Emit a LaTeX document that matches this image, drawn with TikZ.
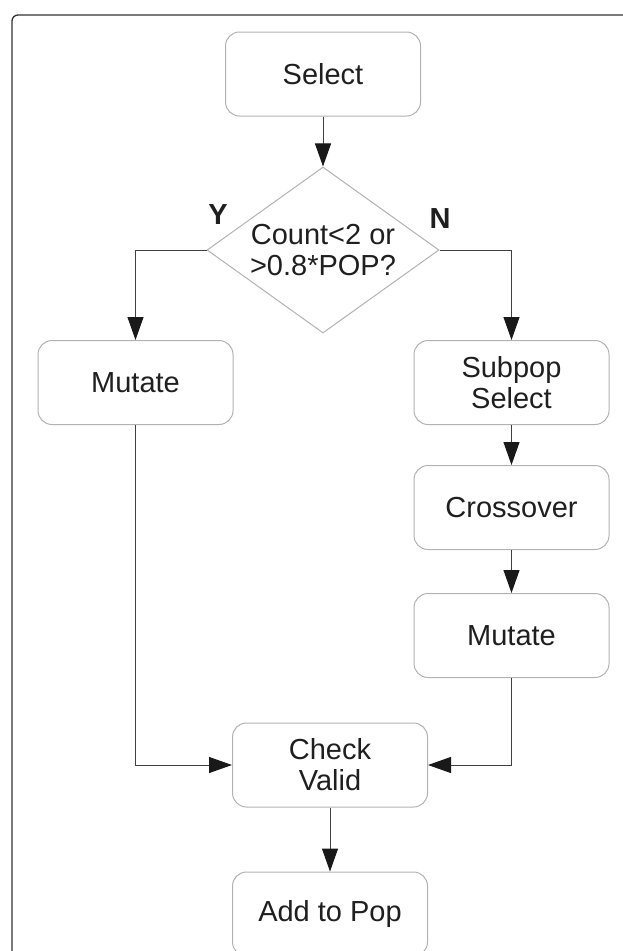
\documentclass[tikz,border=0pt]{standalone}
\usepackage{fontspec}
\setmainfont{Liberation Sans}
\usetikzlibrary{arrows.meta, shapes.geometric}

\begin{document}
\begin{tikzpicture}[x=1pt, y=-1pt]
    \tikzstyle{every node} = [font=\fontsize{29}{31}\selectfont, text=black!88]
    \tikzstyle{block} = [draw=black!30, line width=1pt, rounded corners=14pt, minimum width=195pt, minimum height=84pt, align=center]
    \tikzstyle{decision} = [draw=black!30, line width=1pt, shape=diamond, aspect=1.4, minimum width=232pt, minimum height=166pt, inner sep=0pt, align=center]
    \tikzstyle{flow} = [draw=black!75, line width=1pt, -{Triangle[length=23pt, width=16pt, color=black!90, fill=black!90]}]
    \clip (0,0) rectangle (623,951);
    \draw [black!80, line width=1.3pt, rounded corners=6pt] (12,15) rectangle (680,1000);
    \node (sel) [block] at (323,74) {Select};
    \node (dec) [decision] at (323,250) {Count<2 or\\>0.8*POP?};
    \node (yes) at (218,215) {\bfseries Y};
    \node (no) at (440,219) {\bfseries N};
    \node (mutL) [block] at (135.5,382.5) {Mutate};
    \node (sub) [block] at (511.5,382.5) {Subpop\\Select};
    \node (cross) [block] at (511.5,507.5) {Crossover};
    \node (mutR) [block] at (511.5,635.5) {Mutate};
    \node (chk) [block] at (330,765) {Check\\Valid};
    \node (add) [block] at (330,914) {Add to Pop};
      \draw [flow] (sel) -- (dec);
      \draw [flow] (dec.west) -| (mutL);
      \draw [flow] (dec.east) -| (sub);
      \draw [flow] (sub) -- (cross);
      \draw [flow] (cross) -- (mutR);
      \draw [flow] (mutL) |- (chk);
      \draw [flow] (mutR) |- (chk);
      \draw [flow] (chk) -- (add);
  \end{tikzpicture}
\end{document}
